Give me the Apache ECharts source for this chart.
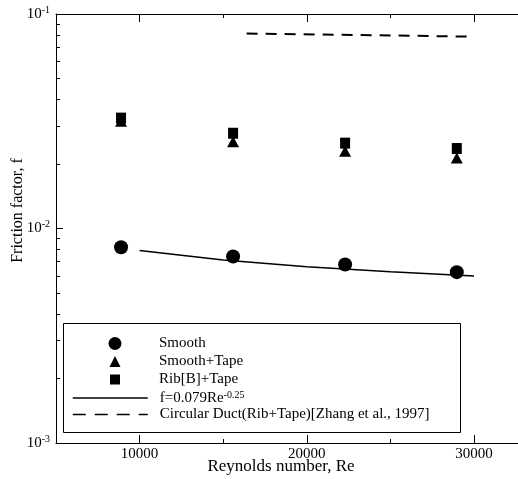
<!DOCTYPE html>
<html>
<head>
<meta charset="utf-8">
<script src="https://cdn.jsdelivr.net/npm/echarts@6/dist/echarts.min.js"></script>
<style>html,body{margin:0;padding:0;background:#fff;}#c{width:518px;height:479px;}</style>
</head>
<body>
<div id="c"></div>
<script>
// ---- data ----
var smoothRe    = [8890, 15590, 22290, 28970];
var smoothF     = [0.00818, 0.00740, 0.00679, 0.00626];
var smTapeRe    = [8890, 15590, 22290, 28970];
var smTapeF     = [0.0316, 0.0254, 0.0229, 0.0213];
var ribTapeRe   = [8890, 15590, 22290, 28970];
var ribTapeF    = [0.0327, 0.0278, 0.0250, 0.0236];
var corrRe      = [10000, 15000, 20000, 25000, 30000];
var corrF       = [0.0079, 0.00714, 0.00664, 0.00628, 0.0060];
var ductRe      = [16400, 29560];
var ductF       = [0.0811, 0.0785];
var xMajorTicks = [10000, 20000, 30000];
var xMinorTicks = [15000, 25000];
var yMinorTicks = [0.002,0.003,0.004,0.005,0.006,0.007,0.008,0.009,0.02,0.03,0.04,0.05,0.06,0.07,0.08,0.09];
var names = ['Smooth', 'Smooth+Tape', 'Rib[B]+Tape', 'f=0.079Re^-0.25', 'Circular Duct(Rib+Tape)[Zhang et al., 1997]'];

function zip(a, b) { return a.map(function (v, i) { return [v, b[i]]; }); }

var FF = '"Liberation Serif", "Times New Roman", serif';
var X_MIN = 5000, X_MAX = 32750;
var gridRect = { left: 56, top: 14, width: 464, height: 429, outerBoundsMode: 'none', containLabel: false };

var legendText = {
  color: '#000', fontFamily: FF, fontSize: 15,
  rich: {
    a: { fontFamily: FF, fontSize: 15, color: '#000', lineHeight: 16 },
    s: { fontFamily: FF, fontSize: 10, color: '#000', lineHeight: 10, verticalAlign: 'top' }
  }
};
function legendFmt(n) {
  if (n === 'f=0.079Re^-0.25') return '{a|f=0.079Re}{s|-0.25}';
  return '{a|' + n + '}';
}
// one legend per row so each marker keeps its own size
function markerLegend(name, icon, size, centerY) {
  return {
    orient: 'vertical', left: 115 - size / 2, top: centerY - 6, padding: 0,
    itemWidth: size, itemHeight: size, selectedMode: false,
    data: [{ name: name, icon: icon }],
    textStyle: Object.assign({}, legendText, { padding: [0, 0, 0, 159 - (115 + size / 2) - 5] }),
    formatter: legendFmt
  };
}
function lineLegend(name, centerY, dash) {
  return {
    orient: 'vertical', left: 72, top: centerY - 6, padding: 0,
    itemWidth: 75, itemHeight: 14, selectedMode: false,
    data: [{ name: name, itemStyle: { opacity: 0 }, lineStyle: { type: dash, width: 1.5, color: '#000' } }],
    textStyle: Object.assign({}, legendText, { padding: [0, 0, 0, 7] }),
    formatter: legendFmt
  };
}

var chart = echarts.init(document.getElementById('c'), null, { renderer: 'canvas' });
chart.setOption({
  animation: false,
  backgroundColor: '#fff',
  grid: [
    Object.assign({}, gridRect),
    Object.assign({}, gridRect)
  ],
  xAxis: [
    {
      gridIndex: 0, type: 'value', position: 'bottom', min: X_MIN, max: X_MAX,
      axisLine: { lineStyle: { color: '#000', width: 1 } },
      axisTick: { inside: true, length: 8, customValues: xMajorTicks, lineStyle: { color: '#000' } },
      axisLabel: { customValues: xMajorTicks, color: '#000', fontFamily: FF, fontSize: 15, margin: 4,
                   formatter: function (v) { return String(v); } },
      splitLine: { show: false },
      name: 'Reynolds number, Re', nameLocation: 'middle', nameGap: 15, nameMoveOverlap: false,
      nameTextStyle: { color: '#000', fontFamily: FF, fontSize: 17, padding: [0, 14, 0, 0] }
    },
    {
      gridIndex: 0, type: 'value', position: 'top', min: X_MIN, max: X_MAX,
      axisLine: { lineStyle: { color: '#000', width: 1 } },
      axisTick: { inside: true, length: 8, customValues: xMajorTicks, lineStyle: { color: '#000' } },
      axisLabel: { show: false },
      splitLine: { show: false }
    },
    {
      gridIndex: 1, type: 'value', position: 'bottom', min: X_MIN, max: X_MAX,
      axisLine: { show: false },
      axisTick: { inside: true, length: 4, customValues: xMinorTicks, lineStyle: { color: '#000' } },
      axisLabel: { show: false },
      splitLine: { show: false }
    },
    {
      gridIndex: 1, type: 'value', position: 'top', min: X_MIN, max: X_MAX,
      axisLine: { show: false },
      axisTick: { inside: true, length: 4, customValues: xMinorTicks, lineStyle: { color: '#000' } },
      axisLabel: { show: false },
      splitLine: { show: false }
    }
  ],
  yAxis: [
    {
      gridIndex: 0, type: 'log', logBase: 10, min: 0.001, max: 0.1, position: 'left',
      axisLine: { show: true, lineStyle: { color: '#000', width: 1 } },
      axisTick: { show: true, inside: true, length: 7, lineStyle: { color: '#000' } },
      axisLabel: {
        color: '#000', fontFamily: FF, margin: 6,
        formatter: function (v) { return '{b|10}{s|' + Math.round(Math.log10(v)) + '}'; },
        rich: {
          b: { fontFamily: FF, fontSize: 15, color: '#000', lineHeight: 18 },
          s: { fontFamily: FF, fontSize: 10, color: '#000', lineHeight: 10, verticalAlign: 'top' }
        }
      },
      splitLine: { show: false },
      name: 'Friction factor, f', nameLocation: 'middle', nameGap: 30, nameRotate: 90, nameMoveOverlap: false,
      nameTextStyle: { color: '#000', fontFamily: FF, fontSize: 16, padding: [0, 0, 0, 36] }
    },
    {
      gridIndex: 1, type: 'log', logBase: 10, min: 0.001, max: 0.1, position: 'left',
      axisLine: { show: false },
      axisTick: { show: true, inside: true, length: 4, customValues: yMinorTicks, lineStyle: { color: '#000' } },
      axisLabel: { show: false },
      splitLine: { show: false }
    }
  ],
  graphic: [{
    type: 'rect', left: 63, top: 323, z: 5,
    shape: { width: 397, height: 109 },
    style: { fill: '#fff', stroke: '#000', lineWidth: 1 }
  }],
  legend: [
    markerLegend(names[0], 'circle', 13, 342),
    markerLegend(names[1], 'triangle', 11, 360),
    markerLegend(names[2], 'rect', 10, 378),
    lineLegend(names[3], 396, 'solid'),
    lineLegend(names[4], 413, [13, 9])
  ].map(function (l) { l.z = 10; return l; }),
  series: [
    {
      name: names[4], type: 'line', xAxisIndex: 0, yAxisIndex: 0,
      data: zip(ductRe, ductF), symbol: 'none',
      itemStyle: { color: '#000' },
      lineStyle: { color: '#000', width: 2, type: [11, 8] }, z: 2
    },
    {
      name: names[3], type: 'line', xAxisIndex: 0, yAxisIndex: 0,
      data: zip(corrRe, corrF), symbol: 'none',
      itemStyle: { color: '#000' },
      lineStyle: { color: '#000', width: 1.5, type: 'solid' }, z: 2
    },
    {
      name: names[2], type: 'scatter', xAxisIndex: 0, yAxisIndex: 0,
      data: zip(ribTapeRe, ribTapeF), symbol: 'rect', symbolSize: [10, 11],
      itemStyle: { color: '#000', opacity: 1 }, z: 3
    },
    {
      name: names[1], type: 'scatter', xAxisIndex: 0, yAxisIndex: 0,
      data: zip(smTapeRe, smTapeF), symbol: 'triangle', symbolSize: [12, 11],
      itemStyle: { color: '#000', opacity: 1 }, z: 4
    },
    {
      name: names[0], type: 'scatter', xAxisIndex: 0, yAxisIndex: 0,
      data: zip(smoothRe, smoothF), symbol: 'circle', symbolSize: 14,
      itemStyle: { color: '#000', opacity: 1 }, z: 4
    }
  ]
});
</script>
</body>
</html>
